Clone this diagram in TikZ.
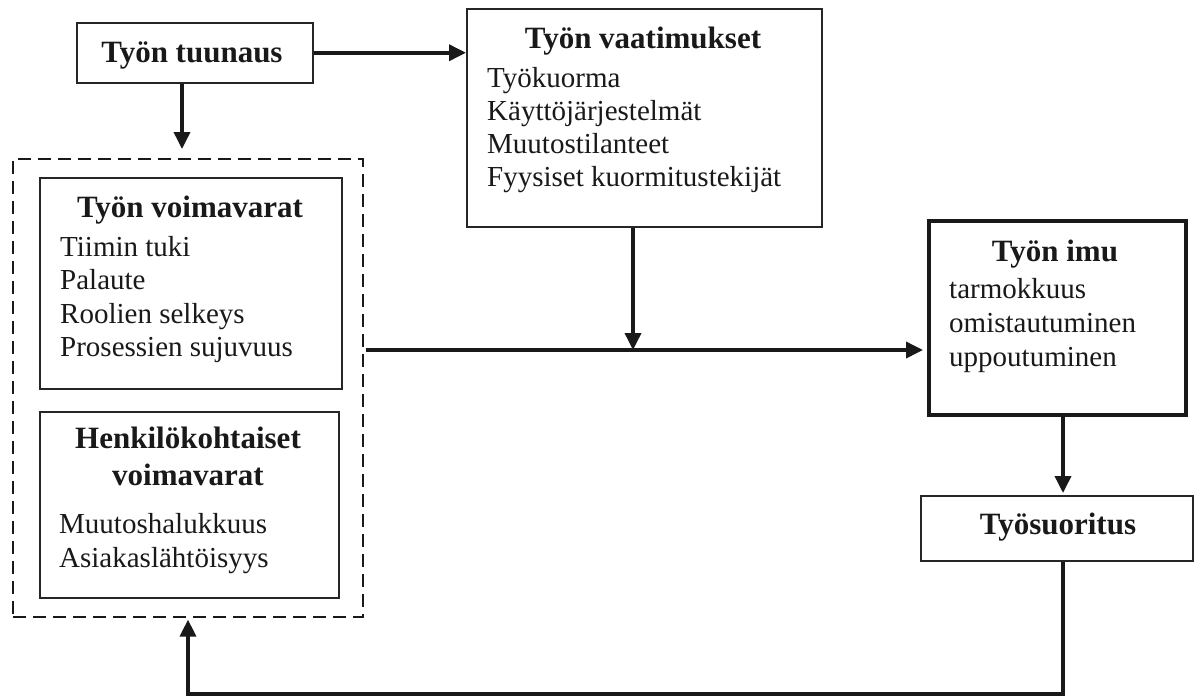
\documentclass[tikz,border=0pt]{standalone}
\usepackage{fontspec}
\setmainfont{Liberation Serif}
\usetikzlibrary{arrows.meta}
\begin{document}
\begin{tikzpicture}[x=1pt,y=-1pt,
  box/.style={draw=black!85,line width=1.5pt,fill=white,inner sep=0pt,anchor=north west},
  thickbox/.style={box,line width=4pt,draw=black!90},
  dashbox/.style={draw=black!90,line width=1.6pt,dash pattern=on 13pt off 7pt,inner sep=0pt,anchor=north west},
  ttl/.style={font=\fontsize{31}{34}\selectfont\bfseries,anchor=base,inner sep=0pt,text=black!90},
  itm/.style={font=\fontsize{29}{33}\selectfont,anchor=base west,inner sep=0pt,text=black!90},
  conn/.style={line width=3.6pt,draw=black!90,-{Triangle[length=17pt,width=16pt]}}]
\useasboundingbox (0,0) rectangle (1194,697);

% boxes
\node[box,minimum width=236pt,minimum height=60pt] (tuunaus) at (76,22) {};
\node[box,minimum width=355pt,minimum height=218pt] (vaat) at (466,8) {};
\node[dashbox,minimum width=350pt,minimum height=458pt] (grp) at (12,158) {};
\node[box,minimum width=302pt,minimum height=211pt] (voim) at (39,177) {};
\node[box,minimum width=299pt,minimum height=186pt] (henk) at (39,411) {};
\node[thickbox,minimum width=257pt,minimum height=194pt] (imu) at (927,219) {};
\node[box,minimum width=272pt,minimum height=65pt] (suor) at (920,495) {};

% texts
\node[ttl] (tuunausT) at (192,62) {Työn tuunaus};

\node[ttl] (vaatT) at (643,48) {Työn vaatimukset};
\foreach \t [count=\i] in {Työkuorma,Käyttöjärjestelmät,Muutostilanteet,Fyysiset kuormitustekijät}
  \node[itm] (vaat\i) at (487,{87+33*(\i-1)}) {\t};

\node[ttl] (voimT) at (190,217) {Työn voimavarat};
\foreach \t [count=\i] in {Tiimin tuki,Palaute,Roolien selkeys,Prosessien sujuvuus}
  \node[itm] (voim\i) at (60,{256+33.5*(\i-1)}) {\t};

\node[ttl] (henkT1) at (188,448) {Henkilökohtaiset};
\node[ttl] (henkT2) at (188,485) {voimavarat};
\foreach \t [count=\i] in {Muutoshalukkuus,Asiakaslähtöisyys}
  \node[itm] (henk\i) at (59,{533+34*(\i-1)}) {\t};

\node[ttl] (imuT) at (1055,261) {Työn imu};
\foreach \t [count=\i] in {tarmokkuus,omistautuminen,uppoutuminen}
  \node[itm] (imu\i) at (949,{298+34*(\i-1)}) {\t};

\node[ttl] (suorT) at (1058,534) {Työsuoritus};

% connectors
\coordinate (c1) at (182,0);
\coordinate (c2) at (633,350);
\coordinate (c3) at (1063,0);
\coordinate (c4) at (188,694);

\draw[conn] (tuunaus.east) -- (vaat.west |- tuunaus.east);
\draw[conn,shorten >=9pt] (tuunaus.south -| c1) -- (grp.north -| c1);
\draw[conn] (vaat.south -| c2) -- (c2);
\draw[conn,shorten <=2pt,shorten >=4pt] (grp.east |- c2) -- (imu.west |- c2);
\draw[conn,shorten >=2pt] (imu.south -| c3) -- (suor.north -| c3);
\draw[conn,shorten >=2pt] (suor.south -| c3) -- (c3 |- c4) -- (c4) -- (grp.south -| c4);
\end{tikzpicture}
\end{document}
